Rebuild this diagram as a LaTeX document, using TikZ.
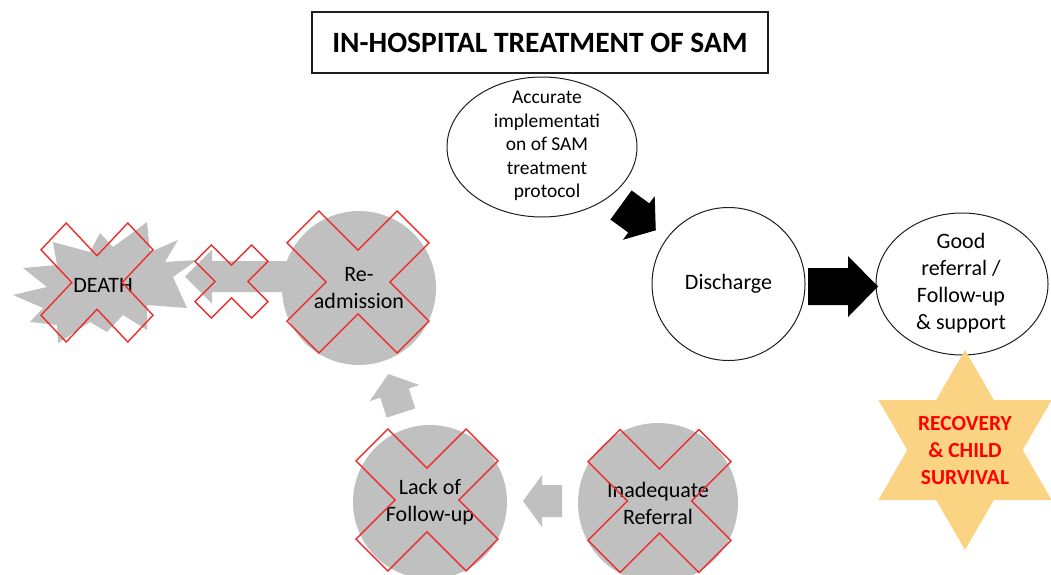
\documentclass[tikz,border=0pt]{standalone}
\usepackage{fontspec}
\setmainfont{Carlito}
\usetikzlibrary{shapes.geometric,calc}

\definecolor{greyfill}{RGB}{192,192,192}
\definecolor{crossred}{RGB}{236,46,46}
\definecolor{starfill}{RGB}{250,212,130}
\definecolor{starred}{RGB}{255,0,0}
\definecolor{outline}{RGB}{30,30,30}

\newcommand{\fsz}[2]{\fontsize{#1}{#2}\selectfont}

\tikzset{
  % red "X" outline: unit half-size, scaled at use
  pics/cross/.style={code={
    \draw[crossred, line width=1.4pt, line join=miter]
      (-1,-0.55) -- (-0.55,-1) -- (0,-0.45) -- (0.55,-1) -- (1,-0.55) -- (0.45,0)
      -- (1,0.55) -- (0.55,1) -- (0,0.45) -- (-0.55,1) -- (-1,0.55) -- (-0.45,0) -- cycle;
  }},
  % block arrow: length / shaft half-width / head half-width / head length
  pics/blockarrow/.style args={#1/#2/#3/#4}{code={
    \fill (0,-#2) -- ({#1-#4},-#2) -- ({#1-#4},-#3) -- (#1,0)
      -- ({#1-#4},#3) -- ({#1-#4},#2) -- (0,#2) -- cycle;
  }},
  oval/.style={ellipse, draw=outline, line width=1pt, inner sep=0pt},
  graycirc/.style={circle, fill=greyfill, inner sep=0pt, align=center, font=\fsz{22}{27}},
  bodytext/.style={align=center, font=\fsz{22}{27}},
}

\begin{document}
\begin{tikzpicture}[x=1pt, y=-1pt]
\useasboundingbox (0,0) rectangle (1051,574);

% title
\node[draw=outline, line width=1.2pt, minimum width=456pt, minimum height=61pt,
      font=\bfseries\fsz{29.5}{35}] (title) at (540,42.5) {IN-HOSPITAL TREATMENT OF SAM};

% successful pathway
\node[oval, minimum width=190pt, minimum height=140pt] (acc) at (542,147) {};
\node[align=center, font=\fsz{19.5}{23.5}] (acctext) at (547,146)
  {Accurate\\implementati\\on of SAM\\treatment\\protocol};

\node[circle, draw=outline, line width=1pt, minimum size=153pt, inner sep=0pt,
      font=\fsz{22}{27}] (dis) at (728.5,284) {Discharge};

\node[oval, minimum width=172pt, minimum height=142pt] (good) at (962,284) {};
\node[bodytext] (goodtext) at (961,283) {Good\\referral /\\Follow-up\\\& support};

\pic[rotate=-36, fill=black] at (621,205) {blockarrow=43/18/27/21};
\pic[fill=black] at (808,286.5) {blockarrow=70/18.5/30.5/30};

% six-pointed star
\fill[starfill] (965,350) -- (993.9,400) -- (1051.6,400) -- (1022.7,450) -- (1051.6,500)
  -- (993.9,500) -- (965,550) -- (936.1,500) -- (878.4,500) -- (907.3,450)
  -- (878.4,400) -- (936.1,400) -- cycle;
\node[align=center, text=starred, font=\bfseries\fsz{21.5}{27}] (goal) at (965,451)
  {RECOVERY\\\& CHILD\\SURVIVAL};

% failure pathway
\pic[rotate=180, fill=greyfill] at (290,276.5) {blockarrow=105/15.5/27/27};
\pic[rotate=108, fill=greyfill] at (401,413) {blockarrow=41/15/26/20};
\pic[rotate=180, fill=greyfill] at (562,501) {blockarrow=39/16/26/19};

\fill[greyfill] (13,295) -- (47,287) -- (23,268) -- (57,265) -- (53,242) -- (90,252)
  -- (100,233) -- (113,247) -- (147,222) -- (150,252) -- (178,240) -- (165,262)
  -- (197,260) -- (173,277) -- (187,308) -- (147,305) -- (147,330) -- (123,315)
  -- (107,332) -- (90,322) -- (58,343) -- (57,325) -- (30,322) -- (43,308) -- cycle;
\node[font=\fsz{22}{27}] (death) at (103,285) {DEATH};

\node[graycirc, minimum size=154pt] (readmit) at (359,288) {Re-\\admission};
\node[graycirc, minimum size=154pt] (lackfu) at (430,502) {Lack of\\Follow-up};
\node[graycirc, minimum size=160pt] (inadeq) at (658,503) {Inadequate\\Referral};

% crossed-out outcomes
\pic[xscale=56, yscale=59.5] at (97,282.5) {cross};
\pic[scale=36.5] at (231.5,281.5) {cross};
\pic[scale=71] at (358,282) {cross};
\pic[scale=71] at (427,500) {cross};
\pic[scale=71.5] at (659.5,501) {cross};
\end{tikzpicture}
\end{document}
